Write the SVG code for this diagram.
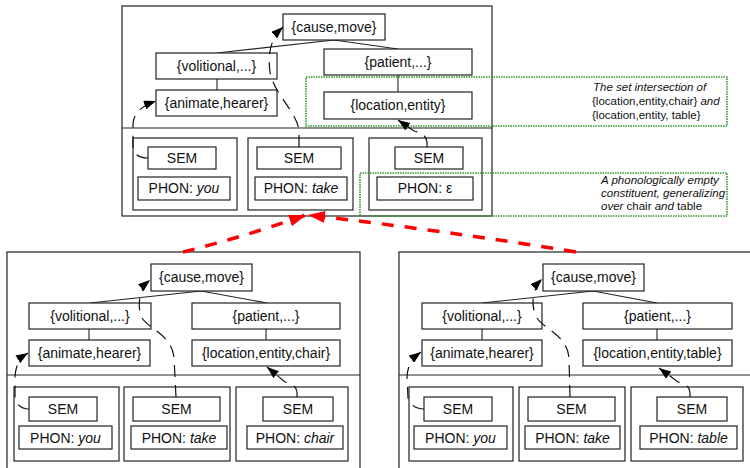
<svg xmlns="http://www.w3.org/2000/svg" width="750" height="468" viewBox="0 0 750 468">
  <defs>
    <style>
      .frame { fill: none; stroke: #222; stroke-width: 1.2; }
      .box { fill: #fff; stroke: #222; stroke-width: 1.2; }
      .lbl { font-family: "Liberation Sans", Arial, sans-serif; font-size: 14px; fill: #111; text-anchor: middle; }
      .it { font-style: italic; }
      .link { fill: none; stroke: #222; stroke-width: 1.1; }
      .dash { fill: none; stroke: #111; stroke-width: 1.2; stroke-dasharray: 12 8; }
      .red { fill: none; stroke: #ff0000; stroke-width: 3.5; stroke-dasharray: 12 11; }
      .note { fill: none; stroke: #2f9a2f; stroke-width: 1.6; stroke-dasharray: 1.5 1; }
      .ann { font-family: "Liberation Sans", Arial, sans-serif; font-size: 11.5px; fill: #111; }
    </style>
    <marker id="arr" viewBox="0 0 12 9" refX="12" refY="4.5" markerWidth="12" markerHeight="9" markerUnits="userSpaceOnUse" orient="auto">
      <path d="M0,0 L12,4.5 L0,9 z" fill="#000" stroke="none"/>
    </marker>
    <marker id="redarr" viewBox="0 0 17 12" refX="17" refY="6" markerWidth="17" markerHeight="12" markerUnits="userSpaceOnUse" orient="auto">
      <path d="M0,0 L17,6 L0,12 z" fill="#ff0000" stroke="none"/>
    </marker>
  </defs>

  <!-- frames -->
  <g id="frame-top">
    <rect class="frame" x="122" y="6" width="370" height="210"/>
    <line class="frame" x1="122" y1="128" x2="492" y2="128"/>
  </g>
  <g id="frame-left">
    <rect class="frame" x="7" y="252" width="353" height="240"/>
    <line class="frame" x1="7" y1="375" x2="360" y2="375"/>
  </g>
  <g id="frame-right">
    <rect class="frame" x="399" y="252" width="380" height="240"/>
    <line class="frame" x1="399" y1="375" x2="750" y2="375"/>
  </g>

  <!-- tree edges -->
  <g id="edges">
    <polyline class="link" points="217,53 334,40 398,49"/>
    <line class="link" x1="217" y1="79" x2="217" y2="90"/>
    <line class="link" x1="398" y1="75" x2="398" y2="92"/>
    <line class="link" x1="299" y1="138" x2="299" y2="147"/>

    <polyline class="link" points="90,303 201,291 267,303"/>
    <line class="link" x1="89" y1="329" x2="89" y2="340"/>
    <line class="link" x1="266" y1="329" x2="266" y2="340"/>

    <polyline class="link" points="482,303 593,291 657,303"/>
    <line class="link" x1="482" y1="329" x2="482" y2="340"/>
    <line class="link" x1="657" y1="329" x2="657" y2="340"/>
  </g>

  <!-- top structure -->
  <g id="t-cause"><rect class="box" x="283" y="14" width="102" height="26"/><text class="lbl" x="334" y="32">{cause,move}</text></g>
  <g id="t-volitional"><rect class="box" x="156" y="53" width="121" height="26"/><text class="lbl" x="216.5" y="71">{volitional,...}</text></g>
  <g id="t-animate"><rect class="box" x="156" y="90" width="121" height="26"/><text class="lbl" x="216.5" y="108">{animate,hearer}</text></g>
  <g id="t-patient"><rect class="box" x="324" y="49" width="148" height="26"/><text class="lbl" x="398" y="67">{patient,...}</text></g>
  <g id="t-location"><rect class="box" x="324" y="92" width="148" height="27"/><text class="lbl" x="398" y="110">{location,entity}</text></g>
  <g id="t-word-you">
    <rect class="box" x="133" y="138" width="104" height="72"/>
    <rect class="box" x="148" y="147" width="68" height="22"/><text class="lbl" x="182" y="163">SEM</text>
    <rect class="box" x="138" y="177" width="92" height="23"/><text class="lbl" x="184" y="193">PHON: <tspan class="it">you</tspan></text>
  </g>
  <g id="t-word-take">
    <rect class="box" x="248" y="138" width="105" height="72"/>
    <rect class="box" x="257" y="147" width="84" height="22"/><text class="lbl" x="299" y="163">SEM</text>
    <rect class="box" x="255" y="177" width="92" height="23"/><text class="lbl" x="301" y="193">PHON: <tspan class="it">take</tspan></text>
  </g>
  <g id="t-word-empty">
    <rect class="box" x="369" y="138" width="113" height="72"/>
    <rect class="box" x="395" y="147" width="68" height="22"/><text class="lbl" x="429" y="163">SEM</text>
    <rect class="box" x="377" y="177" width="96" height="23"/><text class="lbl" x="425" y="193">PHON: ε</text>
  </g>

  <!-- left structure -->
  <g id="l-cause"><rect class="box" x="151" y="264" width="101" height="27"/><text class="lbl" x="201.5" y="282">{cause,move}</text></g>
  <g id="l-volitional"><rect class="box" x="29" y="303" width="122" height="26"/><text class="lbl" x="90" y="321">{volitional,...}</text></g>
  <g id="l-animate"><rect class="box" x="29" y="340" width="121" height="26"/><text class="lbl" x="89.5" y="358">{animate,hearer}</text></g>
  <g id="l-patient"><rect class="box" x="192" y="303" width="148" height="26"/><text class="lbl" x="266" y="321">{patient,...}</text></g>
  <g id="l-location"><rect class="box" x="192" y="340" width="148" height="26"/><text class="lbl" x="266" y="358">{location,entity,chair}</text></g>
  <g id="l-word-you">
    <rect class="box" x="14" y="387" width="105" height="74"/>
    <rect class="box" x="29" y="397" width="68" height="24"/><text class="lbl" x="63" y="414">SEM</text>
    <rect class="box" x="19" y="426" width="93" height="23"/><text class="lbl" x="65.5" y="443">PHON: <tspan class="it">you</tspan></text>
  </g>
  <g id="l-word-take">
    <rect class="box" x="124" y="387" width="106" height="74"/>
    <rect class="box" x="133" y="397" width="87" height="24"/><text class="lbl" x="176.5" y="414">SEM</text>
    <rect class="box" x="131" y="426" width="96" height="23"/><text class="lbl" x="179" y="443">PHON: <tspan class="it">take</tspan></text>
  </g>
  <g id="l-word-chair">
    <rect class="box" x="236" y="387" width="112" height="74"/>
    <rect class="box" x="263" y="397" width="70" height="24"/><text class="lbl" x="298" y="414">SEM</text>
    <rect class="box" x="247" y="426" width="96" height="23"/><text class="lbl" x="295" y="443">PHON: <tspan class="it">chair</tspan></text>
  </g>

  <!-- right structure -->
  <g id="r-cause"><rect class="box" x="543" y="264" width="101" height="27"/><text class="lbl" x="593.5" y="282">{cause,move}</text></g>
  <g id="r-volitional"><rect class="box" x="422" y="303" width="120" height="26"/><text class="lbl" x="482" y="321">{volitional,...}</text></g>
  <g id="r-animate"><rect class="box" x="422" y="340" width="120" height="26"/><text class="lbl" x="482" y="358">{animate,hearer}</text></g>
  <g id="r-patient"><rect class="box" x="583" y="303" width="149" height="26"/><text class="lbl" x="657.5" y="321">{patient,...}</text></g>
  <g id="r-location"><rect class="box" x="583" y="340" width="149" height="26"/><text class="lbl" x="657.5" y="358">{location,entity,table}</text></g>
  <g id="r-word-you">
    <rect class="box" x="409" y="387" width="104" height="74"/>
    <rect class="box" x="424" y="397" width="68" height="24"/><text class="lbl" x="458" y="414">SEM</text>
    <rect class="box" x="414" y="426" width="93" height="23"/><text class="lbl" x="460.5" y="443">PHON: <tspan class="it">you</tspan></text>
  </g>
  <g id="r-word-take">
    <rect class="box" x="519" y="387" width="106" height="74"/>
    <rect class="box" x="528" y="397" width="87" height="24"/><text class="lbl" x="571.5" y="414">SEM</text>
    <rect class="box" x="525" y="426" width="95" height="23"/><text class="lbl" x="572.5" y="443">PHON: <tspan class="it">take</tspan></text>
  </g>
  <g id="r-word-table">
    <rect class="box" x="631" y="387" width="112" height="74"/>
    <rect class="box" x="657" y="397" width="70" height="24"/><text class="lbl" x="692" y="414">SEM</text>
    <rect class="box" x="640" y="426" width="97" height="23"/><text class="lbl" x="688.5" y="443">PHON: <tspan class="it">table</tspan></text>
  </g>

  <!-- annotations -->
  <g id="note-intersection">
    <rect class="note" x="306" y="77" width="421" height="49"/>
    <text class="ann" x="593" y="91"><tspan class="it">The set intersection of</tspan></text>
    <text class="ann" x="592" y="105">{location,entity,chair} <tspan class="it">and</tspan></text>
    <text class="ann" x="592" y="119">{location,entity, table}</text>
  </g>
  <g id="note-empty">
    <rect class="note" x="360" y="173" width="367" height="43"/>
    <text class="ann" x="601" y="184"><tspan class="it">A phonologically empty</tspan></text>
    <text class="ann" x="601" y="197"><tspan class="it">constituent, generalizing</tspan></text>
    <text class="ann" x="601" y="210"><tspan class="it">over</tspan> chair <tspan class="it">and</tspan> table</text>
  </g>

  <!-- connectors -->
  <g id="connectors">
    <path class="dash" d="M148,158 C140,158 134,155 133,148 L133,124 C134,112 142,106 156,101" marker-end="url(#arr)"/>
    <path class="dash" d="M299,147 L299,132 C298,112 274,95 270,72 C268,56 269,40 283,27" marker-end="url(#arr)"/>
    <path class="dash" d="M427,147 C428,138 424,133 414,131 L398,120" marker-end="url(#arr)"/>

    <path class="dash" d="M29,409 C22,409 16,405 15,398 L15,376 C16,364 20,358 28,353" marker-end="url(#arr)"/>
    <path class="dash" d="M176,397 L174,358 C172,335 150,330 142,318 C137,308 138,290 150,280" marker-end="url(#arr)"/>
    <path class="dash" d="M297,397 C298,388 294,384 285,382 L267,367" marker-end="url(#arr)"/>

    <path class="dash" d="M424,409 C416,409 410,405 408,398 L407,376 C408,364 413,358 421,352" marker-end="url(#arr)"/>
    <path class="dash" d="M570,397 L569,358 C567,335 545,330 537,318 C531,308 531,290 542,279" marker-end="url(#arr)"/>
    <path class="dash" d="M690,397 C691,388 687,384 678,382 L659,368" marker-end="url(#arr)"/>

    <path class="red" d="M183,252 Q240,238 306,215" marker-end="url(#redarr)"/>
    <path class="red" d="M576,252 Q440,230 308,215" marker-end="url(#redarr)"/>
  </g>
</svg>
